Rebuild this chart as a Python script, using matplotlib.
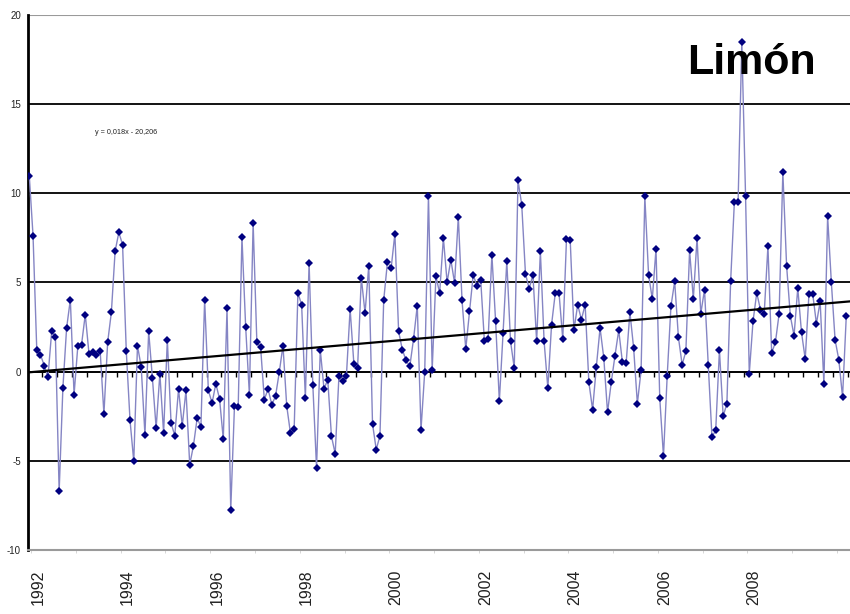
import numpy as np
import matplotlib
matplotlib.use("Agg")
import matplotlib.pyplot as plt

# ---- data (monthly anomalies) ----
values_1992_1994 = [10.95, 7.63, 1.23, 0.95, 0.34, -0.3, 2.26, 1.94, -6.7, -0.92, 2.45, 4.04,
                    -1.29, 1.42, 1.51, 3.2, 1.01, 1.08, 0.95, 1.14, -2.37, 1.64, 3.33, 6.75,
                    7.81, 7.12, 1.14, -2.73]
values_1994_1996 = [-5.03, 1.46, 0.26, -3.53, 2.26, -0.36, -3.16, -0.11, -3.44, 1.79, -2.88, -3.59,
                    -0.97, -3.03, -1.05, -5.22, -4.15, -2.6, -3.1, 4.04, -1.05, -1.76, -0.67, -1.53,
                    -3.78, 3.57, -7.74]
values_1996_1998 = [-1.91, -1.98, 7.55, 2.5, -1.29, 8.34, 1.64, 1.38, -1.57, -0.97, -1.85, -1.38,
                    -0.04, 1.46, -1.91, -3.44, -3.22, 4.41, 3.76, -1.48, 6.1, -0.73, -5.4, 1.23,
                    -0.97, -0.45]
values_1998_2000 = [-3.63, -4.6, -0.26, -0.54, -0.26, 3.52, 0.45, 0.21, 5.26, 3.29, 5.95, -2.92,
                    -4.37, -3.59, 4.0, 6.13, 5.81, 7.74, 2.26, 1.23, 0.63, 0.3, 1.83, 3.7,
                    -3.25, 0.0, 9.87]
values_2000_2002 = [0.11, 5.35, 4.41, 7.5, 5.01, 6.28, 4.97, 8.68, 4.0, 1.27, 3.38, 5.44,
                    4.79, 5.16, 1.7, 1.83, 6.56, 2.82, -1.66, 2.17, 6.19, 1.7, 0.21, 10.73,
                    9.37, 5.5, 4.64]
values_2002_2004 = [5.44, 1.7, 6.75, 1.7, -0.92, 2.64, 4.41, 4.41, 1.83, 7.44, 7.37, 2.32,
                    3.76, 2.92, 3.76, -0.6, -2.13, 0.26, 2.45, 0.77, -2.28, -0.6, 0.9, 2.32,
                    0.52, 0.5, 3.33]
values_2004_2006 = [1.33, -1.79, 0.07, 9.83, 5.44, 4.08, 6.88, -1.48, -4.75, -0.22, 3.66, 5.06,
                    1.94, 0.39, 1.14, 6.8, 4.08, 7.5, 3.25, 4.6, 0.39, -3.66, -3.29, 1.2,
                    -2.5, -1.79, 5.06]
values_2006_2009 = [9.5, 9.5, 18.47, 9.87, -0.11, 2.82, 4.41, 3.48, 3.25, 7.03, 1.05, 1.64,
                    3.25, 11.18, 5.95, 3.14, 2.02, 4.69, 2.2, 0.71, 4.37, 4.37, 2.69, 3.94,
                    -0.67, 8.71, 5.01, 1.79, 0.67, -1.42, 3.1]

year_labels = ["1992", "1994", "1996", "1998", "2000", "2002", "2004", "2006", "2008"]
y_ticks = [-10, -5, 0, 5, 10, 15, 20]
title_text = "Limón"
equation_text = "y = 0,018x - 20,206"

values = np.array(values_1992_1994 + values_1994_1996 + values_1996_1998 + values_1998_2000 +
                  values_2000_2002 + values_2002_2004 + values_2004_2006 + values_2006_2009)
idx = np.arange(len(values))

# linear trend
slope, intercept = np.polyfit(idx, values, 1)
trend_x = np.array([0, len(values) + 1])
trend_y = slope * trend_x + intercept

# ---- figure ----
fig = plt.figure(figsize=(8.5, 6.14), dpi=100)
W, H = 850, 614
ax = fig.add_axes([28 / W, (H - 550) / H, (850 - 28) / W, (550 - 15) / H])

ax.set_xlim(-0.35, 220.0)
ax.set_ylim(-10, 20)

# gridlines
for v in [5, 10, 15, -5]:
    ax.axhline(v, color="black", lw=1.3, zorder=1)
ax.axhline(20, color="#9a9a9a", lw=1.5, zorder=1)
ax.axhline(0, color="black", lw=1.4, zorder=1)

# tick marks on the zero axis
zt = np.arange(3.5, 220, 4)
ax.vlines(zt, -0.28, 0, color="black", lw=1.0, zorder=1)

# data series
ax.plot(idx, values, color="#8585c4", lw=1.0, zorder=3)
ax.plot(idx, values, linestyle="none", marker="D", markersize=3.6,
        color="#000080", markeredgewidth=0, zorder=4)

# trend line
ax.plot(trend_x, trend_y, color="black", lw=1.6, zorder=5)

# spines
for s in ["top", "right"]:
    ax.spines[s].set_visible(False)
ax.spines["left"].set_linewidth(2.0)
ax.spines["left"].set_color("black")
ax.spines["bottom"].set_color("#9a9a9a")
ax.spines["bottom"].set_linewidth(1.5)

# y ticks
ax.set_yticks(y_ticks)
ax.set_yticklabels([str(t) for t in y_ticks], fontsize=7, family="Liberation Sans",
                   color="#222222")
ax.tick_params(axis="y", length=0, pad=5)

# x tick labels
label_pos = np.arange(len(year_labels)) * 24 + 2.3
ax.set_xticks(label_pos)
ax.set_xticklabels(year_labels, rotation=90, fontsize=11.5, family="Liberation Sans",
                   color="#222222")
ax.tick_params(axis="x", length=0, pad=14)
ax.set_xticks(np.arange(0, 220, 12) + 0.5, minor=True)
ax.tick_params(axis="x", which="minor", length=2, color="#d0d0d0", pad=0)

# title and equation
fig.text(751 / W, 1 - 63 / H, title_text, fontsize=31, fontweight="bold",
         family="Liberation Sans", ha="center", va="center")
fig.text(126 / W, 1 - 133 / H, equation_text, fontsize=5.2,
         family="Liberation Sans", ha="center", va="center", color="#222222")

fig.savefig("out.png", dpi=100)
